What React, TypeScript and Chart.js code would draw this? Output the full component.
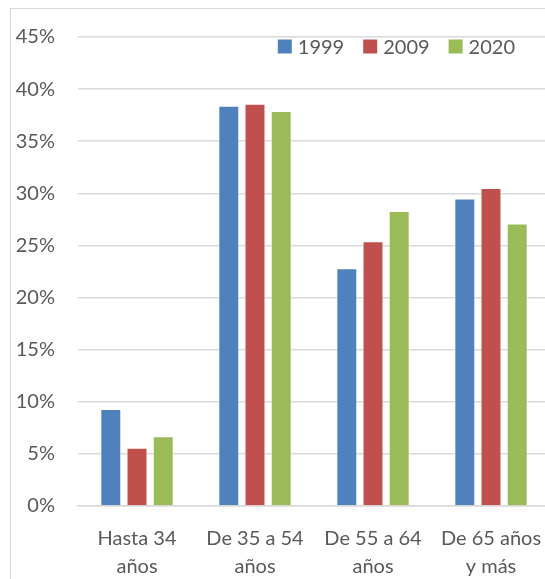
import React, { useEffect, useRef } from "react";
import { Chart, registerables } from "chart.js";

Chart.register(...registerables);

const categories: string[][] = [
  ["Hasta 34", "años"],
  ["De 35 a 54", "años"],
  ["De 55 a 64", "años"],
  ["De 65 años", "y más"],
];
const series1999 = [9.3, 38.4, 22.8, 29.5];
const series2009 = [5.6, 38.6, 25.4, 30.5];
const series2020 = [6.7, 37.9, 28.3, 27.1];
const seriesLabels = ["1999", "2009", "2020"];
const seriesColors = ["#4F81BD", "#C0504D", "#9BBB59"];
const yTickStep = 5;
const yMax = 45;

const FONT = "Lato, 'Open Sans', sans-serif";
const TEXT = "#595959";

export default function App() {
  const ref = useRef<HTMLCanvasElement | null>(null);

  useEffect(() => {
    if (!ref.current) return;
    const insideLegend = {
      id: "insideLegend",
      afterDraw(chart: any) {
        const ctx = chart.ctx;
        const ca = chart.chartArea;
        const box = 14;
        const gap = 6;
        const itemGap = 19;
        ctx.save();
        ctx.font = `20px ${FONT}`;
        const items = chart.data.datasets.map((d: any) => ({
          label: d.label,
          color: d.backgroundColor,
          w: ctx.measureText(d.label).width,
        }));
        let total = 0;
        items.forEach((it: any, i: number) => {
          total += box + gap + it.w + (i < items.length - 1 ? itemGap : 0);
        });
        let x = ca.right - 35 - total;
        const cy = ca.top + 9.5;
        ctx.textBaseline = "middle";
        ctx.textAlign = "left";
        items.forEach((it: any) => {
          ctx.fillStyle = it.color;
          ctx.fillRect(x, cy - box / 2, box, box);
          x += box + gap;
          ctx.fillStyle = TEXT;
          ctx.fillText(it.label, x, cy + 1);
          x += it.w + itemGap;
        });
        ctx.restore();
      },
    };
    const values = [series1999, series2009, series2020];
    const chart = new Chart(ref.current, {
      type: "bar",
      data: {
        labels: categories,
        datasets: seriesLabels.map((l, i) => ({
          label: l,
          data: values[i],
          backgroundColor: seriesColors[i],
          borderColor: "rgba(255,255,255,0.6)",
          borderWidth: 1,
          categoryPercentage: 0.666,
          barPercentage: 0.8,
        })),
      },
      options: {
        responsive: false,
        animation: false,
        devicePixelRatio: 1,
        layout: { padding: { top: 37, right: 10, left: 0, bottom: 0 } },
        plugins: {
          tooltip: { enabled: false },
          legend: { display: false },
        },
        scales: {
          x: {
            afterFit(scale: any) {
              scale.height = 73;
            },
            grid: { display: false },
            border: { display: true, color: "#d9d9d9", width: 1.5 },
            ticks: {
              color: TEXT,
              font: { family: FONT, size: 20, lineHeight: 1.4 },
              padding: 11,
              maxRotation: 0,
              autoSkip: false,
            },
          },
          y: {
            min: 0,
            max: yMax,
            afterFit(scale: any) {
              scale.width = 78;
            },
            grid: { color: "#d9d9d9", lineWidth: 1.5, drawTicks: false },
            border: { display: false },
            ticks: {
              stepSize: yTickStep,
              color: TEXT,
              font: { family: FONT, size: 20 },
              padding: 23,
              callback: (v: any) => v + "%",
            },
          },
        },
      },
      plugins: [insideLegend],
    });
    return () => chart.destroy();
  }, []);

  return (
    <div
      style={{
        position: "fixed",
        left: 0,
        top: 0,
        width: 545,
        height: 579,
        overflow: "hidden",
        background: "#fff",
      }}
    >
      <div
        style={{
          position: "absolute",
          left: 10,
          top: 8,
          width: 700,
          height: 700,
          borderLeft: "1.5px solid #d9d9d9",
          borderTop: "1.5px solid #d9d9d9",
        }}
      />
      <canvas
        ref={ref}
        width={560}
        height={579}
        style={{ position: "absolute", left: 0, top: 0 }}
      />
    </div>
  );
}
